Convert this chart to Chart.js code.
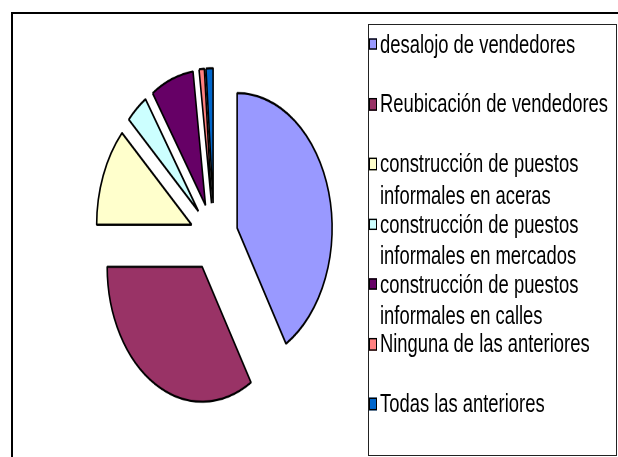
<!DOCTYPE html>
<html>
<head>
<meta charset="utf-8">
<script src="https://cdn.jsdelivr.net/npm/chart.js@4"></script>
<style>
html, body { margin: 0; padding: 0; background: #fff; overflow: hidden; width: 618px; height: 457px; }
#frame { position: absolute; left: 11px; top: 12px; width: 700px; height: 600px; border: 2px solid #000; }
#legendBox { position: absolute; left: 368px; top: 24px; width: 249px; height: 432px; border: 1px solid #222; box-sizing: border-box; }
/* the original picture is stretched vertically, so draw everything flat and stretch it */
#stretch { position: absolute; left: 0; top: 0; width: 618px; height: 322px; transform: scaleY(1.42); transform-origin: 0 0; }
#pieBox { position: absolute; left: 0; top: 0; width: 428px; height: 334px; }
#legend { position: absolute; left: 0; top: 0; font-family: "Liberation Sans", Arial, sans-serif; font-size: 18.4px; color: #000; }
.item { position: absolute; left: 369px; line-height: 22.5px; white-space: nowrap; }
.sw { position: absolute; left: 0; top: 7px; width: 6px; height: 6.5px; border: 1px solid #000; }
.txt { position: absolute; left: 11px; top: 0; }
</style>
</head>
<body>
<div id="frame"></div>
<div id="legendBox"></div>
<div id="stretch">
  <div id="pieBox"><canvas id="pie"></canvas></div>
  <div id="legend"></div>
</div>
<script>
// Data
const categories = [
    'desalojo de vendedores',
    'Reubicación de vendedores',
    ['construcción de puestos', 'informales en aceras'],
    ['construcción de puestos', 'informales en mercados'],
    ['construcción de puestos', 'informales en calles'],
    'Ninguna de las anteriores',
    'Todas las anteriores'
];
const values = [41.4, 33.6, 11.9, 3.7, 7.3, 0.9, 1.2];
const colors = ['#9999FF', '#993366', '#FFFFCC', '#CCFFFF', '#660066', '#FF8080', '#0066CC'];

// push every slice out along its middle angle
const explode = {
    id: 'explode',
    afterDatasetUpdate(chart, args, opts) {
        args.meta.data.forEach(arc => {
            const mid = (arc.startAngle + arc.endAngle) / 2;
            arc.x += Math.cos(mid) * opts.distance;
            arc.y += Math.sin(mid) * opts.distance;
        });
    }
};

new Chart(document.getElementById('pie'), {
    type: 'pie',
    data: {
        labels: categories,
        datasets: [{
            data: values,
            backgroundColor: colors,
            borderColor: '#000',
            borderWidth: 1.6,
            radius: 95
        }]
    },
    options: {
        responsive: true,
        maintainAspectRatio: false,
        devicePixelRatio: 2,
        animation: false,
        events: [],
        layout: { padding: 0 },
        plugins: {
            legend: { display: false },
            tooltip: { enabled: false },
            explode: { distance: 24 }
        }
    },
    plugins: [explode]
});

// Legend
const legend = document.getElementById('legend');
categories.forEach((c, i) => {
    const lines = Array.isArray(c) ? c : [c];
    const item = document.createElement('div');
    item.className = 'item';
    item.style.top = (31 - 11.25 + i * 42.25) + 'px';
    item.innerHTML = `<div class="sw" style="background:${colors[i]}"></div><div class="txt">${lines.join('<br>')}</div>`;
    legend.appendChild(item);
});
</script>
</body>
</html>
